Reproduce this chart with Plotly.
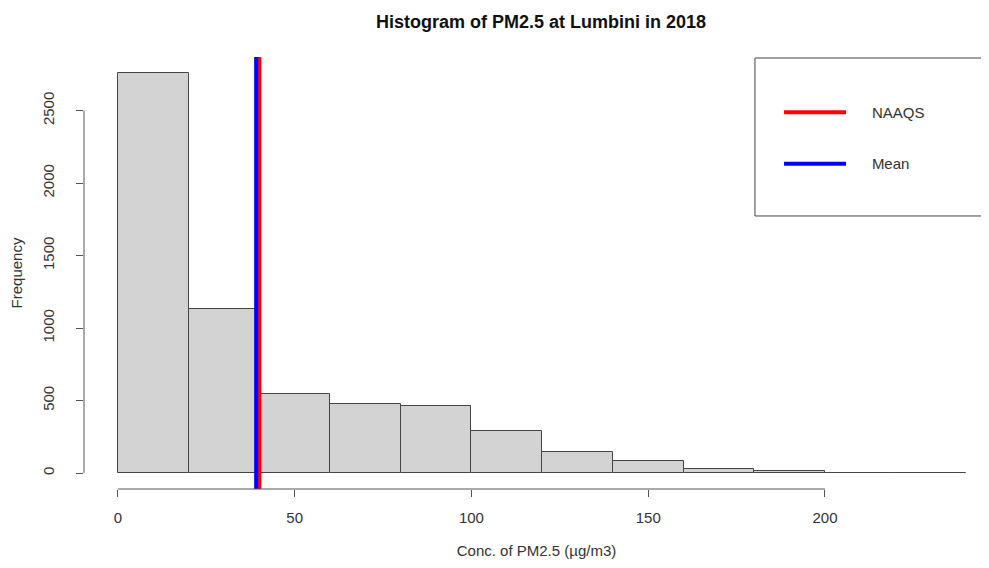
import plotly.graph_objects as go

# histogram of hourly PM2.5 at Lumbini, 2018 (20 µg/m3 bins)
bin_start = [0, 20, 40, 60, 80, 100, 120, 140, 160, 180, 200, 220]
bin_width = 20
counts = [2762, 1133, 545, 476, 463, 290, 147, 83, 28, 16, 3, 1]

naaqs = 40
mean_pm = 39.1

x_ticks = [0, 50, 100, 150, 200]
y_ticks = [0, 500, 1000, 1500, 2000, 2500]

centers = [b + bin_width / 2 for b in bin_start]
pad = '\u00a0' * 5  # push legend text right like R's legend()

fig = go.Figure()
fig.add_trace(go.Bar(
    x=centers, y=counts, width=bin_width,
    marker=dict(color='#d3d3d3', line=dict(color='#444444', width=1)),
    showlegend=False, hoverinfo='x+y'))

# reference lines (shown in the legend)
fig.add_shape(type='line', xref='x', yref='paper', x0=naaqs, x1=naaqs, y0=0, y1=1,
              line=dict(color='#ff0000', width=4), name=pad + 'NAAQS', showlegend=True,
              legendgroup='a')
fig.add_shape(type='line', xref='x', yref='paper', x0=mean_pm, x1=mean_pm, y0=0, y1=1,
              line=dict(color='#0000ff', width=4), name=pad + 'Mean', showlegend=True,
              legendgroup='b')

# R style axis lines, only from first to last tick
fig.add_shape(type='line', xref='x', yref='paper', x0=x_ticks[0], x1=x_ticks[-1], y0=0, y1=0,
              line=dict(color='#555555', width=1))
fig.add_shape(type='line', xref='paper', yref='y', x0=0, x1=0, y0=y_ticks[0], y1=y_ticks[-1],
              line=dict(color='#555555', width=1))

# legend box
fig.add_shape(type='rect', xref='paper', yref='paper', x0=0.7414, x1=0.9989, y0=0.632, y1=0.9977,
              line=dict(color='#444444', width=1), fillcolor='white', layer='below')

fig.update_layout(
    width=981, height=560,
    margin=dict(l=76, r=0, t=49, b=79),
    plot_bgcolor='white', paper_bgcolor='white',
    font=dict(family='Liberation Sans, Arial, sans-serif', size=15, color='#333333'),
    title=dict(text='<b>Histogram of PM2.5 at Lumbini in 2018</b>', xref='paper', x=0.505,
               xanchor='center', y=0.975, yanchor='middle',
               font=dict(size=18, color='#111111')),
    bargap=0,
    legend=dict(x=0.768, y=0.91, xanchor='left', yanchor='top', bgcolor='rgba(0,0,0,0)',
                borderwidth=0, tracegroupgap=29, traceorder='grouped', itemwidth=62,
                font=dict(size=15, color='#333333')),
    xaxis=dict(range=[-9.6, 246.4], tickvals=x_ticks, showgrid=False, zeroline=False,
               showline=False, ticks='outside', ticklen=7, tickcolor='#555555',
               ticklabelstandoff=8, automargin=False,
               title=dict(text='Conc. of PM2.5 (µg/m3)', standoff=20, font=dict(size=15))),
    yaxis=dict(range=[-110, 2870], tickvals=y_ticks, showgrid=False, zeroline=False,
               showline=False, ticks='outside', ticklen=7, tickcolor='#555555',
               tickangle=-90, ticklabelstandoff=16, automargin=False,
               title=dict(text='Frequency', standoff=22, font=dict(size=15))),
)

fig.write_html('out.html')
